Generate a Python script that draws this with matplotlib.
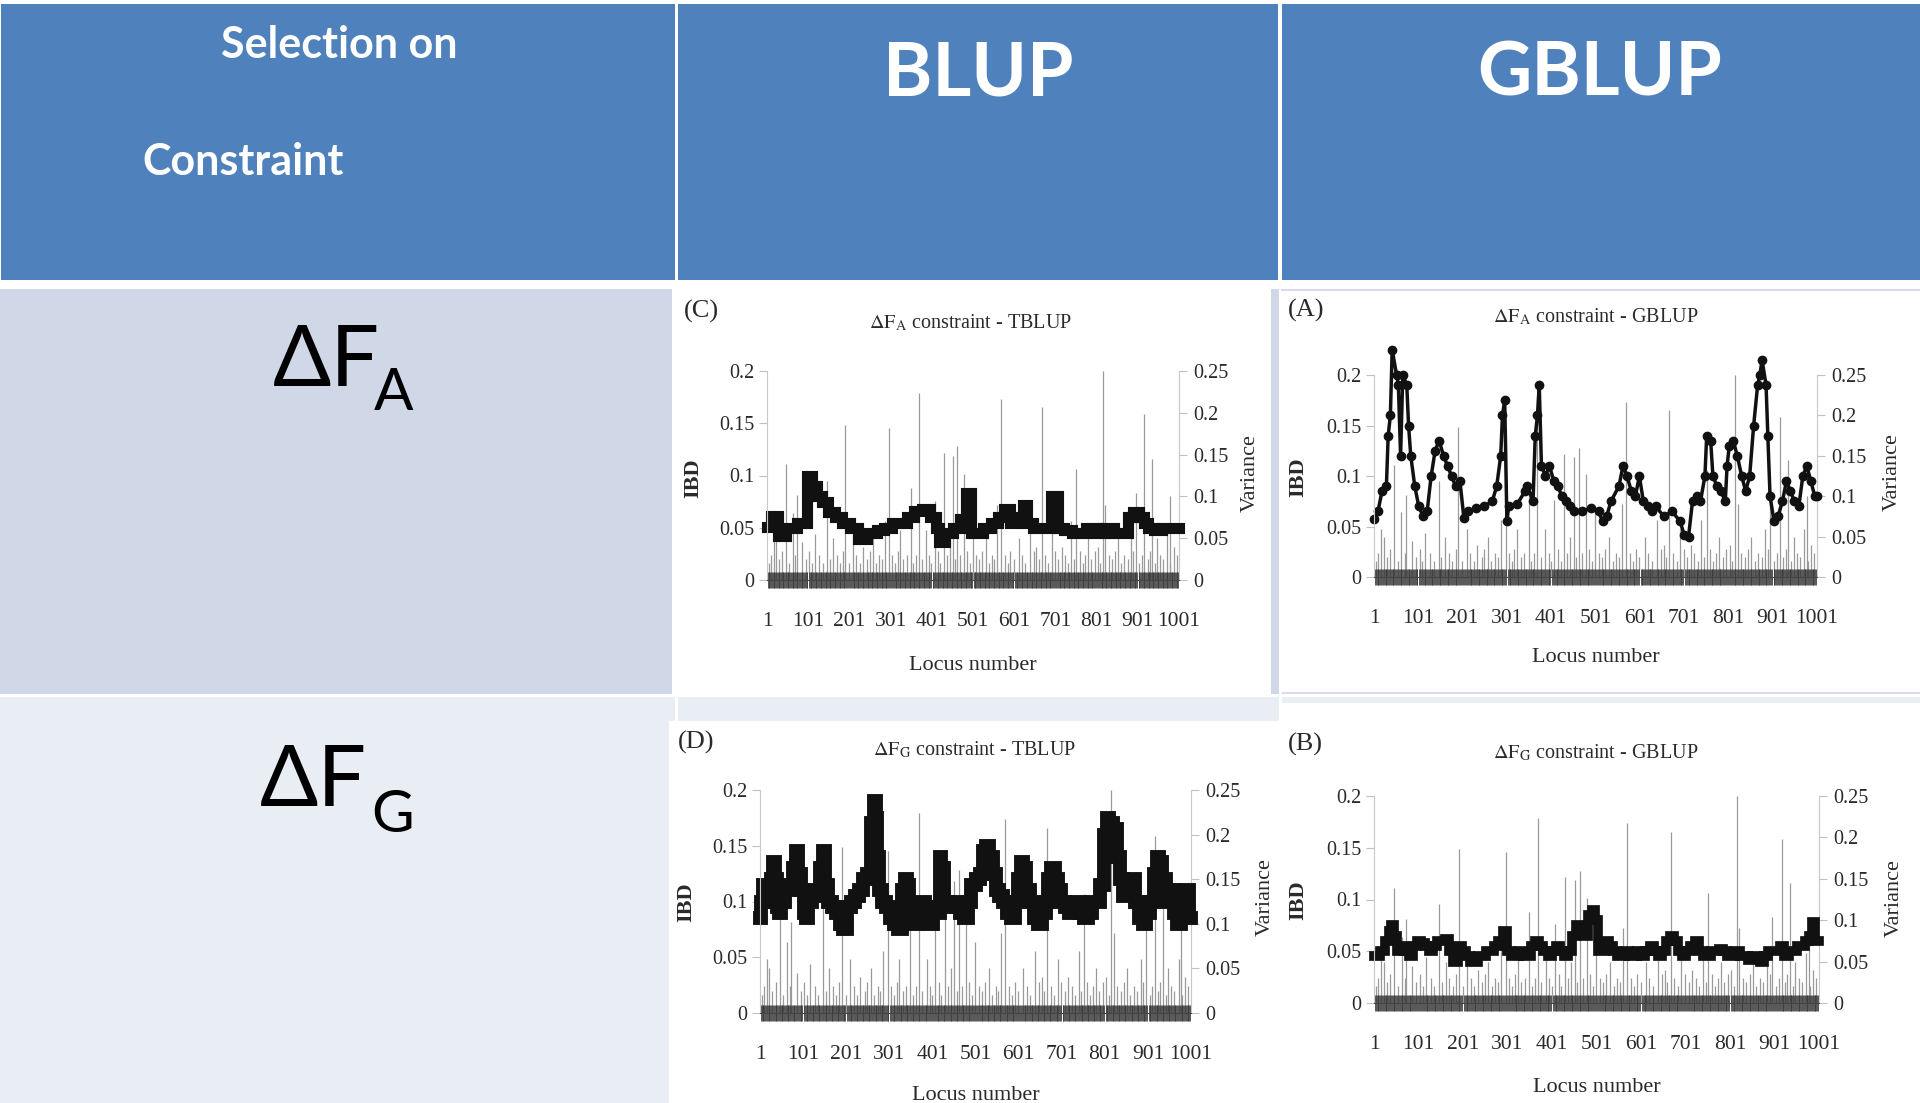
import numpy as np
import matplotlib.pyplot as plt
from matplotlib.patches import Rectangle

plt.rcParams['mathtext.fontset'] = 'stix'
plt.rcParams['font.family'] = ['Liberation Serif', 'DejaVu Serif']

# ---- data ----
row_labels = ['ΔF', 'ΔF']
row_subs = ['A', 'G']
col_heads = ['BLUP', 'GBLUP']

c_loci = [1, 18, 36, 59, 91, 105, 115, 128, 142, 156, 175, 193, 212, 230, 258, 276, 295, 313, 332,
          350, 368, 387, 405, 415, 424, 442, 461, 479, 489, 502, 516, 535, 553, 572, 581, 599, 618,
          627, 636, 655, 682, 701, 715, 729, 756, 793, 812, 821, 830, 858, 867, 886, 895, 913, 918,
          932, 950, 969, 987, 1001]
c_ibd = [0.051, 0.061, 0.042, 0.05, 0.055, 0.1, 0.09, 0.08, 0.075, 0.065, 0.06, 0.055, 0.05, 0.039,
         0.045, 0.048, 0.05, 0.055, 0.055, 0.06, 0.066, 0.068, 0.06, 0.05, 0.036, 0.045, 0.05, 0.058,
         0.083, 0.045, 0.045, 0.05, 0.055, 0.06, 0.068, 0.055, 0.06, 0.072, 0.055, 0.05, 0.05, 0.08,
         0.05, 0.048, 0.045, 0.05, 0.045, 0.05, 0.05, 0.045, 0.045, 0.06, 0.065, 0.06, 0.055, 0.05,
         0.048, 0.05, 0.05, 0.05]

a_loci = [1, 10, 19, 29, 33, 38, 42, 52, 56, 61, 66, 75, 79, 84, 93, 102, 112, 121, 130, 139, 148,
          158, 167, 176, 185, 195, 204, 213, 231, 250, 268, 278, 287, 291, 296, 301, 305, 324, 342,
          347, 360, 365, 370, 374, 379, 388, 397, 407, 416, 425, 434, 443, 453, 471, 490, 508, 517,
          526, 536, 554, 563, 572, 582, 591, 600, 609, 619, 628, 637, 655, 674, 692, 701, 711, 720,
          729, 738, 748, 752, 761, 766, 775, 784, 794, 798, 803, 812, 821, 831, 840, 849, 858, 867,
          872, 877, 886, 890, 895, 904, 913, 923, 932, 941, 950, 960, 969, 978, 987, 996, 1001]
a_ibd = [0.057, 0.065, 0.085, 0.09, 0.14, 0.16, 0.225, 0.2, 0.19, 0.12, 0.2, 0.19, 0.15, 0.12, 0.09,
         0.07, 0.06, 0.065, 0.1, 0.125, 0.135, 0.12, 0.11, 0.1, 0.09, 0.095, 0.058, 0.065, 0.068,
         0.07, 0.075, 0.09, 0.12, 0.16, 0.175, 0.055, 0.07, 0.072, 0.085, 0.09, 0.075, 0.14, 0.16,
         0.19, 0.11, 0.1, 0.11, 0.095, 0.09, 0.08, 0.075, 0.07, 0.065, 0.065, 0.068, 0.065, 0.055,
         0.06, 0.075, 0.09, 0.11, 0.1, 0.085, 0.08, 0.1, 0.075, 0.07, 0.065, 0.07, 0.06, 0.065,
         0.055, 0.042, 0.04, 0.075, 0.08, 0.075, 0.1, 0.14, 0.135, 0.1, 0.09, 0.085, 0.075, 0.11,
         0.13, 0.135, 0.12, 0.1, 0.085, 0.1, 0.15, 0.19, 0.2, 0.215, 0.19, 0.14, 0.08, 0.055, 0.06,
         0.075, 0.095, 0.085, 0.075, 0.07, 0.1, 0.11, 0.095, 0.08, 0.08]

d_loci = [1, 6, 10, 19, 24, 28, 33, 37, 42, 46, 55, 64, 73, 82, 87, 91, 100, 105, 109, 118, 127,
          136, 145, 150, 154, 163, 172, 181, 190, 199, 208, 217, 226, 235, 244, 253, 262, 267, 271,
          276, 280, 289, 298, 307, 316, 325, 334, 339, 343, 352, 357, 361, 370, 379, 388, 397, 406,
          415, 420, 424, 433, 442, 451, 460, 469, 478, 487, 496, 506, 515, 524, 528, 537, 546, 551,
          560, 569, 578, 587, 596, 605, 609, 614, 623, 632, 641, 650, 659, 668, 672, 681, 690, 695,
          704, 713, 722, 731, 740, 749, 758, 767, 776, 785, 794, 803, 807, 816, 825, 834, 839, 848,
          857, 866, 875, 884, 893, 902, 911, 920, 924, 929, 938, 947, 956, 965, 974, 983, 992, 1001]
d_ibd = [0.085, 0.1, 0.115, 0.105, 0.1, 0.12, 0.135, 0.12, 0.095, 0.09, 0.1, 0.11, 0.115, 0.13,
         0.145, 0.125, 0.11, 0.09, 0.085, 0.1, 0.11, 0.105, 0.13, 0.145, 0.115, 0.1, 0.095, 0.09,
         0.08, 0.075, 0.095, 0.1, 0.105, 0.11, 0.12, 0.125, 0.17, 0.19, 0.175, 0.14, 0.11, 0.1,
         0.095, 0.085, 0.08, 0.075, 0.11, 0.12, 0.115, 0.09, 0.085, 0.08, 0.095, 0.1, 0.085, 0.08,
         0.095, 0.09, 0.14, 0.13, 0.1, 0.095, 0.1, 0.095, 0.09, 0.085, 0.1, 0.115, 0.12, 0.125,
         0.145, 0.15, 0.14, 0.125, 0.11, 0.105, 0.1, 0.09, 0.085, 0.1, 0.12, 0.135, 0.13, 0.11,
         0.1, 0.085, 0.08, 0.09, 0.1, 0.12, 0.13, 0.12, 0.11, 0.1, 0.095, 0.09, 0.095, 0.1, 0.09,
         0.085, 0.09, 0.1, 0.1, 0.115, 0.16, 0.175, 0.17, 0.165, 0.14, 0.12, 0.105, 0.11, 0.12,
         0.1, 0.085, 0.08, 0.09, 0.1, 0.125, 0.14, 0.135, 0.12, 0.1, 0.11, 0.09, 0.08, 0.1, 0.11,
         0.085]

b_loci = [1, 10, 19, 33, 38, 42, 51, 56, 65, 74, 84, 93, 102, 111, 120, 129, 139, 148, 157, 166,
          175, 184, 194, 203, 212, 221, 230, 240, 249, 258, 267, 276, 285, 295, 304, 313, 322, 331,
          340, 350, 359, 368, 377, 386, 396, 405, 414, 423, 432, 441, 451, 460, 469, 478, 487, 496,
          501, 506, 515, 524, 533, 542, 551, 561, 570, 579, 588, 597, 606, 616, 625, 634, 643, 652,
          662, 671, 680, 689, 698, 707, 717, 726, 735, 744, 753, 762, 772, 781, 790, 799, 808, 818,
          827, 836, 845, 854, 863, 873, 882, 891, 900, 909, 918, 928, 937, 946, 955, 964, 974, 983,
          987, 996, 1001]
b_ibd = [0.045, 0.045, 0.05, 0.06, 0.07, 0.075, 0.065, 0.05, 0.055, 0.05, 0.045, 0.055, 0.06,
         0.058, 0.055, 0.05, 0.055, 0.06, 0.06, 0.062, 0.05, 0.04, 0.055, 0.05, 0.045, 0.04, 0.04,
         0.045, 0.045, 0.05, 0.05, 0.055, 0.06, 0.07, 0.05, 0.045, 0.045, 0.05, 0.045, 0.045,
         0.055, 0.06, 0.055, 0.05, 0.045, 0.05, 0.055, 0.05, 0.045, 0.05, 0.065, 0.075, 0.07,
         0.065, 0.085, 0.09, 0.08, 0.05, 0.05, 0.06, 0.055, 0.05, 0.045, 0.045, 0.05, 0.045, 0.045,
         0.05, 0.045, 0.05, 0.055, 0.05, 0.045, 0.05, 0.06, 0.065, 0.06, 0.05, 0.045, 0.05, 0.055,
         0.06, 0.05, 0.045, 0.045, 0.05, 0.05, 0.052, 0.05, 0.045, 0.045, 0.05, 0.045, 0.045,
         0.042, 0.045, 0.045, 0.04, 0.045, 0.05, 0.05, 0.05, 0.055, 0.045, 0.05, 0.05, 0.055,
         0.055, 0.06, 0.065, 0.078, 0.06, 0.06]

# variance per locus (same in all four panels), right axis
var_loci = [5, 11, 17, 23, 30, 38, 47, 55, 63, 70, 74, 87, 95, 104, 110, 117, 128, 136, 147, 153,
            162, 170, 178, 185, 191, 200, 210, 218, 226, 234, 244, 250, 258, 266, 274, 280, 287,
            298, 305, 312, 318, 324, 332, 340, 350, 356, 362, 369, 377, 388, 395, 400, 408, 416,
            422, 430, 437, 444, 452, 458, 463, 470, 480, 487, 494, 500, 508, 515, 522, 532, 540,
            548, 553, 560, 570, 578, 585, 592, 600, 612, 620, 628, 640, 648, 655, 660, 668, 676,
            684, 692, 700, 708, 716, 724, 732, 740, 746, 752, 760, 767, 774, 780, 788, 796, 804,
            810, 816, 822, 830, 838, 845, 852, 860, 868, 876, 884, 890, 896, 905, 910, 917, 925,
            930, 936, 942, 948, 955, 962, 972, 978, 980, 988, 995]
var_vals = [0.02, 0.03, 0.06, 0.05, 0.025, 0.035, 0.139, 0.02, 0.08, 0.03, 0.102, 0.045, 0.025,
            0.035, 0.02, 0.055, 0.03, 0.02, 0.119, 0.025, 0.05, 0.03, 0.02, 0.035, 0.186, 0.02,
            0.06, 0.03, 0.02, 0.04, 0.025, 0.035, 0.05, 0.02, 0.03, 0.025, 0.07, 0.182, 0.03, 0.02,
            0.035, 0.06, 0.025, 0.03, 0.11, 0.02, 0.03, 0.224, 0.025, 0.06, 0.03, 0.02, 0.095,
            0.035, 0.02, 0.152, 0.03, 0.05, 0.148, 0.025, 0.16, 0.03, 0.127, 0.035, 0.02, 0.08,
            0.03, 0.025, 0.035, 0.05, 0.02, 0.03, 0.025, 0.09, 0.217, 0.03, 0.02, 0.035, 0.025,
            0.05, 0.03, 0.02, 0.07, 0.035, 0.04, 0.025, 0.207, 0.03, 0.02, 0.06, 0.035, 0.025,
            0.04, 0.03, 0.02, 0.07, 0.025, 0.133, 0.035, 0.02, 0.03, 0.05, 0.025, 0.035, 0.04,
            0.02, 0.25, 0.09, 0.03, 0.025, 0.035, 0.05, 0.02, 0.03, 0.025, 0.06, 0.035, 0.104,
            0.02, 0.03, 0.198, 0.025, 0.035, 0.145, 0.02, 0.05, 0.03, 0.025, 0.06, 0.1, 0.02,
            0.04, 0.03]

x_ticks = [1, 101, 201, 301, 401, 501, 601, 701, 801, 901, 1001]
ibd_ticks = [0, 0.05, 0.1, 0.15, 0.2]
ibd_labels = ['0', '0.05', '0.1', '0.15', '0.2']
var_ticks = [0, 0.05, 0.1, 0.15, 0.2, 0.25]
var_labels = ['0', '0.05', '0.1', '0.15', '0.2', '0.25']

# ---- figure ----
W, H = 1920, 1103
fig = plt.figure(figsize=(19.2, 11.03), dpi=100, facecolor='white')


def fx(x):
    return x / W


def fy(y):
    return 1 - y / H


def box(x0, y0, x1, y1, color):
    fig.patches.append(Rectangle((fx(x0), fy(y1)), (x1 - x0) / W, (y1 - y0) / H,
                                 transform=fig.transFigure, facecolor=color,
                                 edgecolor='none', zorder=-5))


blue = '#4F81BD'
row1 = '#D0D8E8'
row2 = '#E9EDF4'

# table cells
box(1, 4, 675, 280, blue)
box(678, 4, 1278, 280, blue)
box(1282, 4, 1920, 280, blue)
box(0, 289, 672, 694, row1)
box(1271, 289, 1279, 694, row1)
box(1281, 289, 1920, 291, '#D6DCEA')
box(0, 697, 675, 1103, row2)
box(678, 697, 1279, 721, row2)
box(669, 721, 1279, 1103, 'white')
box(1282, 692, 1920, 694, '#D6DCEA')
box(1282, 697, 1920, 703, row2)

# header text
hdr = ['Lato', 'DejaVu Sans']
fig.text(fx(339), fy(58), 'Selection on', color='white', fontsize=31, fontweight='bold',
         family=hdr, ha='center', va='baseline')
fig.text(fx(243), fy(175), 'Constraint', color='white', fontsize=31, fontweight='bold',
         family=hdr, ha='center', va='baseline')
fig.text(fx(978), fy(96), col_heads[0], color='white', fontsize=54, fontweight='bold',
         family=hdr, ha='center', va='baseline')
fig.text(fx(1600), fy(96), col_heads[1], color='white', fontsize=54, fontweight='bold',
         family=hdr, ha='center', va='baseline')

# row labels
fig.text(fx(273), fy(386), row_labels[0], fontsize=62, family=hdr, ha='left', va='baseline')
fig.text(fx(374), fy(410), row_subs[0], fontsize=42, family=hdr, ha='left', va='baseline')
fig.text(fx(260), fy(806), row_labels[1], fontsize=62, family=hdr, ha='left', va='baseline')
fig.text(fx(371), fy(832), row_subs[1], fontsize=42, family=hdr, ha='left', va='baseline')

# panels: letter, title, (x_left, x_right, y_zero, y_top), loci, ibd, style
panels = [
    dict(letter='(C)', title=r'$\Delta\mathrm{F}_{\mathrm{A}}$ constraint - TBLUP',
         box=(767, 1179, 580, 371), loci=c_loci, ibd=c_ibd, kind='step', lw=8,
         let_xy=(684, 318), tit_xy=(971, 328), xl_y=665, ibd_xy=(693, 478), var_xy=(1250, 473)),
    dict(letter='(A)', title=r'$\Delta\mathrm{F}_{\mathrm{A}}$ constraint - GBLUP',
         box=(1374, 1817, 577, 375), loci=a_loci, ibd=a_ibd, kind='dots', lw=2.5,
         let_xy=(1288, 317), tit_xy=(1596, 322), xl_y=658, ibd_xy=(1298, 477), var_xy=(1892, 472)),
    dict(letter='(D)', title=r'$\Delta\mathrm{F}_{\mathrm{G}}$ constraint - TBLUP',
         box=(760, 1191, 1013, 790), loci=d_loci, ibd=d_ibd, kind='step', lw=10,
         let_xy=(678, 749), tit_xy=(975, 755), xl_y=1095, ibd_xy=(686, 902), var_xy=(1265, 897)),
    dict(letter='(B)', title=r'$\Delta\mathrm{F}_{\mathrm{G}}$ constraint - GBLUP',
         box=(1374, 1819, 1003, 796), loci=b_loci, ibd=b_ibd, kind='step', lw=7,
         let_xy=(1288, 751), tit_xy=(1596, 758), xl_y=1087, ibd_xy=(1298, 900), var_xy=(1894, 898)),
]

txt = '#2a2a2a'
for p in panels:
    x0, x1, y0, y1 = p['box']
    ax = fig.add_axes([fx(x0), fy(y0), (x1 - x0) / W, (y0 - y1) / H])
    ax2 = ax.twinx()

    # variance spikes
    ax2.vlines(var_loci, 0, var_vals, color='#9a9a9a', lw=0.9)
    ax2.set_ylim(0, 0.25)

    # IBD line
    if p['kind'] == 'step':
        ax.plot(p['loci'], p['ibd'], color='#111111', lw=p['lw'], drawstyle='steps-mid',
                solid_joinstyle='miter', clip_on=False)
    else:
        ax.plot(p['loci'], p['ibd'], color='#111111', lw=p['lw'], marker='o', markersize=6,
                clip_on=False)
    ax.set_zorder(ax2.get_zorder() + 1)
    ax.patch.set_visible(False)
    ax.set_xlim(1, 1001)
    ax.set_ylim(0, 0.2)

    for sp in ['top', 'right']:
        ax.spines[sp].set_visible(False)
    for sp in ['top', 'left', 'bottom']:
        ax2.spines[sp].set_visible(False)
    ax.spines['left'].set_color('#c8c8c8')
    ax.spines['bottom'].set_color('#444444')
    ax2.spines['right'].set_color('#c8c8c8')

    ax.set_xticks(x_ticks)
    ax.set_xticklabels([str(t) for t in x_ticks])
    ax.set_xticks(np.arange(1, 1002, 2), minor=True)
    ax.tick_params(axis='x', which='major', length=0, pad=23, labelsize=15.5, labelcolor=txt)
    ax.tick_params(axis='x', which='minor', direction='inout', length=12, width=0.6,
                   color='#3a3a3a')
    ax.set_yticks(ibd_ticks)
    ax.set_yticklabels(ibd_labels)
    ax.tick_params(axis='y', direction='out', length=6, width=0.8, color='#c0c0c0', pad=3,
                   labelsize=14.5, labelcolor=txt)
    ax2.set_yticks(var_ticks)
    ax2.set_yticklabels(var_labels)
    ax2.tick_params(axis='y', direction='out', length=6, width=0.8, color='#c0c0c0', pad=4,
                    labelsize=14.5, labelcolor=txt)

    fig.text(fx(p['let_xy'][0]), fy(p['let_xy'][1]), p['letter'], fontsize=19, color=txt,
             ha='left', va='baseline')
    fig.text(fx(p['tit_xy'][0]), fy(p['tit_xy'][1]), p['title'], fontsize=14.5, color=txt,
             ha='center', va='baseline')
    fig.text(fx((x0 + x1) / 2), fy(p['xl_y']), 'Locus number', fontsize=16, color=txt,
             ha='center', va='center')
    fig.text(fx(p['ibd_xy'][0]), fy(p['ibd_xy'][1]), 'IBD', fontsize=16, fontweight='bold',
             color=txt, rotation=90, ha='center', va='center')
    fig.text(fx(p['var_xy'][0]), fy(p['var_xy'][1]), 'Variance', fontsize=16, color=txt,
             rotation=90, ha='center', va='center')

fig.savefig('out.png', dpi=100, facecolor='white')
